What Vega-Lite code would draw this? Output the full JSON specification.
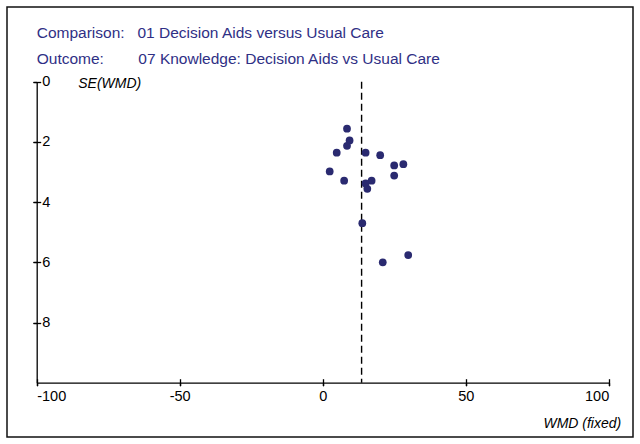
{
  "$schema": "https://vega.github.io/schema/vega-lite/v6.json",
  "width": 626,
  "height": 430,
  "autosize": {"type": "none"},
  "padding": {"left": 7, "top": 7, "right": 7, "bottom": 7},
  "background": "white",
  "title": {
    "text": ["Comparison:\u00a0\u00a0\u00a001 Decision Aids versus Usual Care", "Outcome:\u00a0\u00a0\u00a0\u00a0\u00a0\u00a0\u00a0\u00a007 Knowledge: Decision Aids vs Usual Care"],
    "anchor": "start",
    "frame": "group",
    "offset": -60,
    "dx": 29.7,
    "fontSize": 15.5,
    "fontWeight": "normal",
    "font": "Liberation Sans",
    "color": "#2f2f85",
    "lineHeight": 26
  },
  "config": {
    "view": {"stroke": "#111", "strokeWidth": 1.5},
    "axis": {
      "grid": false,
      "domainColor": "#000",
      "domainWidth": 1.3,
      "tickColor": "#000",
      "tickWidth": 1.3,
      "labelColor": "#000",
      "labelFont": "Liberation Sans",
      "labelFontSize": 14.5,
      "titleFont": "Liberation Sans",
      "titleFontSize": 14,
      "titleFontStyle": "italic",
      "titleFontWeight": "normal",
      "titleColor": "#000"
    }
  },
  "resolve": {
    "scale": {"x": "independent", "y": "independent"},
    "axis": {"x": "independent", "y": "independent"}
  },
  "layer": [
    {
      "data": {"values": [{"pooled": 13.6}]},
      "mark": {"type": "rule", "color": "#000", "strokeWidth": 1.4, "strokeDash": [7, 4]},
      "encoding": {
        "x": {
          "field": "pooled", "type": "quantitative",
          "scale": {"domain": [-100, 100], "range": [29.7, 601.7], "nice": false, "zero": false},
          "axis": {
            "orient": "bottom", "offset": -58.3, "values": [-100, -50, 0, 50, 100],
            "tickSize": 7, "labels": false, "domain": false, "title": null
          }
        },
        "y": {
          "datum": 0, "type": "quantitative",
          "scale": {"domain": [0, 10], "range": [74.7, 375.7], "nice": false, "zero": false},
          "axis": {
            "orient": "left", "offset": -33.7, "values": [0, 2, 4, 6, 8],
            "tickSize": 7, "labels": false, "domain": false, "title": null
          }
        },
        "y2": {"datum": 10}
      }
    },
    {
      "data": {
        "values": [
          {"wmd": 8.5, "se": 1.56},
          {"wmd": 9.4, "se": 1.95},
          {"wmd": 8.5, "se": 2.13},
          {"wmd": 4.9, "se": 2.36},
          {"wmd": 15.0, "se": 2.36},
          {"wmd": 20.1, "se": 2.44},
          {"wmd": 25.0, "se": 2.78},
          {"wmd": 28.2, "se": 2.74},
          {"wmd": 25.0, "se": 3.12},
          {"wmd": 2.45, "se": 2.98},
          {"wmd": 7.5, "se": 3.29},
          {"wmd": 17.1, "se": 3.29},
          {"wmd": 15.0, "se": 3.38},
          {"wmd": 15.6, "se": 3.56},
          {"wmd": 13.85, "se": 4.7},
          {"wmd": 21.0, "se": 6.0},
          {"wmd": 29.9, "se": 5.76}
        ]
      },
      "mark": {"type": "point", "filled": true, "size": 60, "opacity": 1, "color": "#2a2a70"},
      "encoding": {
        "x": {
          "field": "wmd", "type": "quantitative",
          "scale": {"domain": [-100, 100], "range": [29.7, 601.7], "nice": false, "zero": false},
          "axis": {
            "orient": "bottom", "offset": -54.3, "values": [-100, -50, 0, 50, 100],
            "tickSize": 3, "labelPadding": 4, "labelBaseline": "top",
            "labelExpr": "replace(datum.label, '\u2212', '-')",
            "title": "WMD (fixed)", "titleAlign": "right", "titleBaseline": "middle",
            "titleX": 613.7, "titleY": 40.3, "titleAngle": 0
          }
        },
        "y": {
          "field": "se", "type": "quantitative",
          "scale": {"domain": [0, 10], "range": [74.7, 375.7], "nice": false, "zero": false},
          "axis": {
            "orient": "left", "offset": -29.7, "values": [0, 2, 4, 6, 8],
            "tickSize": 4, "labelAlign": "left", "labelBaseline": "middle", "labelPadding": -9,
            "title": "SE(WMD)", "titleAlign": "left", "titleBaseline": "middle",
            "titleX": 41, "titleY": 76, "titleAngle": 0
          }
        }
      }
    }
  ]
}
